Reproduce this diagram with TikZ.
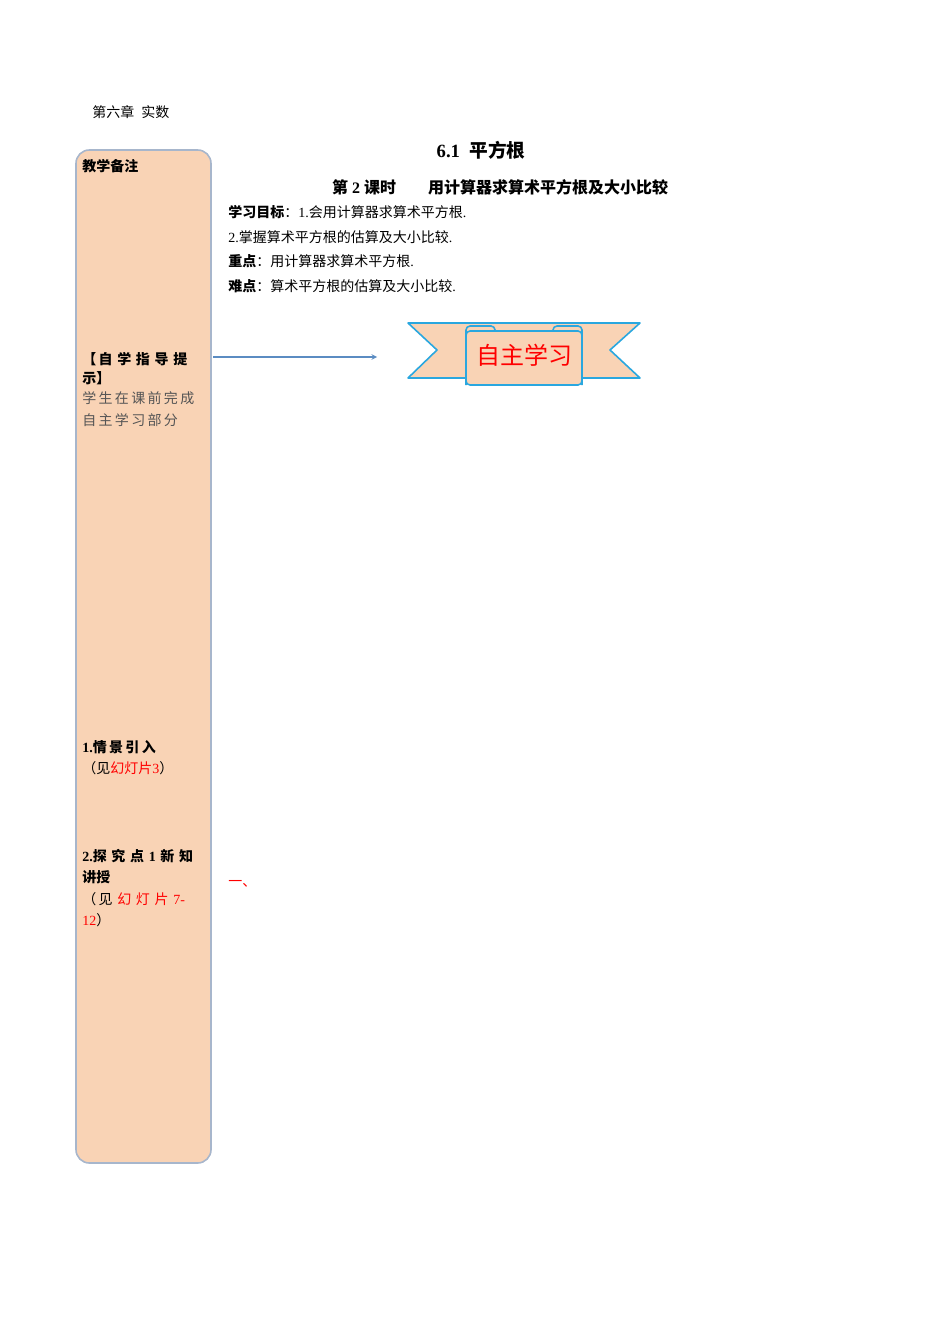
\documentclass[tikz,border=0pt]{standalone}
\usepackage{fontspec}
\setmainfont{Liberation Serif}
\newfontfamily\cjk{Noto Sans CJK SC}
\definecolor{peach}{HTML}{F9D3B5}
\definecolor{sideline}{HTML}{A7B6CC}
\definecolor{ribbon}{HTML}{2AA7DF}
\definecolor{arrowblue}{HTML}{5B8CC2}
\definecolor{hintgray}{HTML}{555555}
\begin{document}
\begin{tikzpicture}[x=0.75pt,y=-0.75pt,
  txt/.style={anchor=west, inner sep=0pt, font=\fontsize{10.5}{12}\selectfont},
  side/.style={txt, font=\fontsize{10.5}{12}\selectfont\bfseries},
  ribbonpart/.style={fill=peach, draw=ribbon, line width=1.2pt, line join=round}]
\useasboundingbox (0,0) rectangle (950,1344);

% header and title
\node[txt] (chap) at (92,112) {{\cjk 第六章}\ \ {\cjk 实数}};
\node[inner sep=0pt, font=\fontsize{14}{16}\selectfont\bfseries] (title) at (481,150) {6.1\ \ {\cjk 平方根}};
\node[inner sep=0pt, font=\fontsize{12}{14}\selectfont\bfseries] (lesson) at (500,187) {{\cjk 第} 2 {\cjk 课时}\qquad{\cjk 用计算器求算术平方根及大小比较}};
\node[txt] (goal) at (228,212) {{\cjk\bfseries 学习目标}{\cjk ：}1.{\cjk 会用计算器求算术平方根}.};
\node[txt] (goal2) at (228,237) {2.{\cjk 掌握算术平方根的估算及大小比较}.};
\node[txt] (key) at (228,261) {{\cjk\bfseries 重点}{\cjk ：用计算器求算术平方根}.};
\node[txt] (hard) at (228,286) {{\cjk\bfseries 难点}{\cjk ：算术平方根的估算及大小比较}.};

% side column
\draw[fill=peach, draw=sideline, line width=1.2pt, rounded corners=10pt] (76,150) rectangle (211,1163);
\node[side] (note) at (82,166) {\cjk 教学备注};
\node[side] (hint) at (82,359) {\cjk 【\,自\,\,学\,\,指\,\,导\,\,提};
\node[side] (hint2) at (82,378) {\cjk 示】};
\node[txt, text=hintgray] (pre) at (82,398) {\cjk 学\,生\,在\,课\,前\,完\,成};
\node[txt, text=hintgray] (pre2) at (82,420) {\cjk 自\,主\,学\,习\,部\,分};
\node[side] (intro) at (82,747) {1.{\cjk 情\,景\,引\,入}};
\node[txt] (intro2) at (82,768) {{\cjk （见}{\color{red}\cjk 幻灯片}{\color{red}3}{\cjk ）}};
\node[side] (explore) at (82,856) {2.{\cjk 探\,\,究\,\,点}\,\,1\,\,{\cjk 新\,\,知}};
\node[side] (explore2) at (82,877) {\cjk 讲授};
\node[txt] (explore3) at (82,899) {{\cjk （\,见\,\,}{\color{red}\cjk 幻\,\,灯\,\,片}\,\,{\color{red}7-}};
\node[txt] (explore4) at (82,920) {{\color{red}12}{\cjk ）}};
\node[txt, text=red] (one) at (228,884) {\cjk 一、};

% banner
\coordinate (tip) at (377,357);
\coordinate (hintend) at (213,357);
\draw[ribbonpart] (408,323) -- (640,323) -- (610,350) -- (640,378) -- (408,378) -- (437,350) -- cycle;
\draw[ribbonpart, rounded corners=3pt] (466,385) -- (466,326) -- (495,326) -- (495,331);
\draw[ribbonpart, rounded corners=3pt] (582,385) -- (582,326) -- (553,326) -- (553,331);
\draw[ribbonpart, rounded corners=3pt] (466,331) rectangle (582,385);
\node[inner sep=0pt, text=red, font=\cjk\fontsize{18}{20}\selectfont] (self) at (524,355) {自主学习};

% connector
\draw[->, >=stealth, arrowblue, line width=0.8pt] (hintend) -- (tip);
\end{tikzpicture}
\end{document}
